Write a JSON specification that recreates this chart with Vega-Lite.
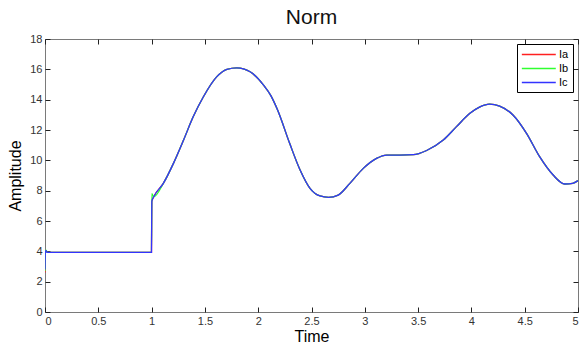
{
  "$schema": "https://vega.github.io/schema/vega-lite/v6.json",
  "autosize": "none",
  "width": 533,
  "height": 273,
  "padding": {"left": 45, "top": 39, "right": 2, "bottom": 32},
  "background": "white",
  "config": {
    "font": "Liberation Sans",
    "view": {"stroke": "#7a7a7a", "strokeWidth": 1},
    "axis": {"grid": false, "domain": false, "tickColor": "#222", "tickSize": -5, "labelFont": "Liberation Sans", "labelFontSize": 11, "labelColor": "#333", "titleFont": "Liberation Sans", "titleFontWeight": "normal", "titleFontSize": 16, "titleColor": "#000"}
  },
  "title": {"text": "Norm", "fontSize": 21, "fontWeight": "normal", "font": "Liberation Sans", "color": "#111", "offset": 5},
  "data": {
    "values": [
      {"t": 0.0, "Ia": 2.6, "Ib": 2.7, "Ic": 2.8},
      {"t": 0.003, "Ia": 3.95, "Ib": 3.95, "Ic": 3.95},
      {"t": 0.01, "Ia": 4.05, "Ib": 4.08, "Ic": 4.05},
      {"t": 0.02, "Ia": 3.93, "Ib": 3.93, "Ic": 3.93},
      {"t": 0.5, "Ia": 3.93, "Ib": 3.93, "Ic": 3.93},
      {"t": 0.999, "Ia": 3.93, "Ib": 3.93, "Ic": 3.93},
      {"t": 1.002, "Ia": 7.3, "Ib": 7.8, "Ic": 7.3},
      {"t": 1.02, "Ia": 7.6, "Ib": 7.6, "Ic": 7.6},
      {"t": 1.11, "Ia": 8.48, "Ib": 8.48, "Ic": 8.48},
      {"t": 1.205, "Ia": 9.8, "Ib": 9.8, "Ic": 9.8},
      {"t": 1.3, "Ia": 11.34, "Ib": 11.34, "Ic": 11.34},
      {"t": 1.39, "Ia": 12.87, "Ib": 12.87, "Ic": 12.87},
      {"t": 1.486, "Ia": 14.19, "Ib": 14.19, "Ic": 14.19},
      {"t": 1.61, "Ia": 15.5, "Ib": 15.5, "Ic": 15.5},
      {"t": 1.706, "Ia": 16.0, "Ib": 16.0, "Ic": 16.0},
      {"t": 1.8, "Ia": 16.1, "Ib": 16.1, "Ic": 16.1},
      {"t": 1.924, "Ia": 15.84, "Ib": 15.84, "Ic": 15.84},
      {"t": 2.05, "Ia": 14.96, "Ib": 14.96, "Ic": 14.96},
      {"t": 2.12, "Ia": 14.25, "Ib": 14.25, "Ic": 14.25},
      {"t": 2.18, "Ia": 13.35, "Ib": 13.35, "Ic": 13.35},
      {"t": 2.295, "Ia": 11.12, "Ib": 11.12, "Ic": 11.12},
      {"t": 2.393, "Ia": 9.36, "Ib": 9.36, "Ic": 9.36},
      {"t": 2.486, "Ia": 8.15, "Ib": 8.15, "Ic": 8.15},
      {"t": 2.58, "Ia": 7.65, "Ib": 7.65, "Ic": 7.65},
      {"t": 2.66, "Ia": 7.56, "Ib": 7.56, "Ic": 7.56},
      {"t": 2.75, "Ia": 7.71, "Ib": 7.71, "Ic": 7.71},
      {"t": 2.86, "Ia": 8.48, "Ib": 8.48, "Ic": 8.48},
      {"t": 2.986, "Ia": 9.47, "Ib": 9.47, "Ic": 9.47},
      {"t": 3.11, "Ia": 10.13, "Ib": 10.13, "Ic": 10.13},
      {"t": 3.205, "Ia": 10.35, "Ib": 10.35, "Ic": 10.35},
      {"t": 3.33, "Ia": 10.35, "Ib": 10.35, "Ic": 10.35},
      {"t": 3.455, "Ia": 10.37, "Ib": 10.37, "Ic": 10.37},
      {"t": 3.58, "Ia": 10.65, "Ib": 10.65, "Ic": 10.65},
      {"t": 3.736, "Ia": 11.34, "Ib": 11.34, "Ic": 11.34},
      {"t": 3.86, "Ia": 12.22, "Ib": 12.22, "Ic": 12.22},
      {"t": 3.986, "Ia": 13.1, "Ib": 13.1, "Ic": 13.1},
      {"t": 4.08, "Ia": 13.53, "Ib": 13.53, "Ic": 13.53},
      {"t": 4.17, "Ia": 13.71, "Ib": 13.71, "Ic": 13.71},
      {"t": 4.265, "Ia": 13.58, "Ib": 13.58, "Ic": 13.58},
      {"t": 4.39, "Ia": 12.99, "Ib": 12.99, "Ic": 12.99},
      {"t": 4.517, "Ia": 11.78, "Ib": 11.78, "Ic": 11.78},
      {"t": 4.64, "Ia": 10.24, "Ib": 10.24, "Ic": 10.24},
      {"t": 4.767, "Ia": 9.03, "Ib": 9.03, "Ic": 9.03},
      {"t": 4.876, "Ia": 8.44, "Ib": 8.44, "Ic": 8.44},
      {"t": 4.95, "Ia": 8.48, "Ib": 8.48, "Ic": 8.48},
      {"t": 5.0, "Ia": 8.66, "Ib": 8.66, "Ic": 8.66}
    ]
  },
  "transform": [{"fold": ["Ia", "Ib", "Ic"], "as": ["series", "value"]}],
  "layer": [
    {
      "mark": {"type": "line", "strokeWidth": 1.3, "interpolate": "monotone", "clip": true},
      "encoding": {
        "x": {"field": "t", "type": "quantitative", "scale": {"domain": [0, 5], "nice": false, "zero": false},
              "axis": {"orient": "bottom", "title": "Time", "values": [0, 0.5, 1, 1.5, 2, 2.5, 3, 3.5, 4, 4.5, 5], "format": "~g", "labelPadding": 8, "titlePadding": 2}},
        "y": {"field": "value", "type": "quantitative", "scale": {"domain": [0, 18], "nice": false},
              "axis": {"orient": "left", "title": "Amplitude", "values": [0, 2, 4, 6, 8, 10, 12, 14, 16, 18], "labelPadding": 8, "titlePadding": 6}},
        "color": {"field": "series", "type": "nominal",
                  "scale": {"domain": ["Ia", "Ib", "Ic"], "range": ["#ff2020", "#30ff30", "#3333ff"]},
                  "legend": {"title": null, "orient": "top-right", "offset": 5, "strokeColor": "#000", "fillColor": "#fff", "padding": 4,
                             "symbolType": "M-1,0H5", "symbolSize": 128, "symbolStrokeWidth": 1.5, "labelOffset": 25,
                             "labelFontSize": 11, "labelFont": "Liberation Sans", "labelColor": "#000", "rowPadding": 2, "cornerRadius": 0}}
      }
    },
    {
      "mark": {"type": "line", "opacity": 0},
      "encoding": {
        "x": {"field": "t", "type": "quantitative",
              "axis": {"orient": "top", "title": null, "labels": false, "values": [0, 0.5, 1, 1.5, 2, 2.5, 3, 3.5, 4, 4.5, 5]}},
        "y": {"field": "value", "type": "quantitative",
              "axis": {"orient": "right", "title": null, "labels": false, "values": [0, 2, 4, 6, 8, 10, 12, 14, 16, 18]}}
      }
    }
  ],
  "resolve": {"axis": {"x": "independent", "y": "independent"}}
}
